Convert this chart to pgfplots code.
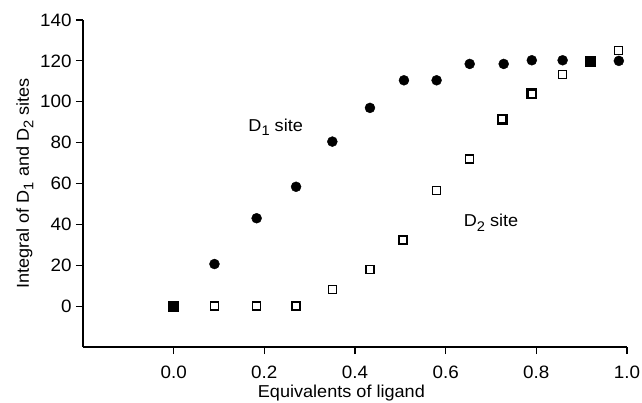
\documentclass[border=0pt]{standalone}
\usepackage{fontspec}
\setmainfont{Liberation Sans}[FakeStretch=1.05]
\usepackage{pgfplots}
\pgfplotsset{compat=1.18}
\newcommand\sub[1]{\raisebox{-4.5bp}{\fontsize{14}{14}\selectfont #1}}
\begin{document}
\begin{tikzpicture}
\useasboundingbox (-83bp,-56bp) rectangle (559bp,347bp);
\begin{axis}[
  at={(0,0)}, anchor=south west,
  width=544bp, height=327bp, scale only axis,
  xmin=-0.2, xmax=1.0, ymin=-20, ymax=140,
  axis x line*=bottom, axis y line*=left,
  axis line style={line width=1.2bp, black},
  tick align=outside,
  major tick length=7bp,
  tick style={line width=1.2bp, black},
  xtick={0,0.2,0.4,0.6,0.8,1.0},
  ytick={0,20,40,60,80,100,120,140},
  /pgf/number format/assume math mode=true,
  tick label style={font=\fontsize{18}{21}\selectfont},
  xticklabel style={/pgf/number format/.cd, fixed, fixed zerofill, precision=1, /tikz/yshift=-8bp},
  yticklabel style={xshift=-1bp},
  xlabel={Equivalents of ligand},
  ylabel={Integral of D\sub{1} and D\sub{2} sites},
  label style={font=\fontsize{17.3}{20}\selectfont},
  xlabel style={at={(axis description cs:0.475,0)}, anchor=base, yshift=-50bp},
  ylabel style={at={(axis description cs:0,0.5)}, anchor=center, yshift=58bp},
  clip=false,
]
% D2 site, open squares
\addplot[only marks, mark=square, mark size=4bp, mark options={line width=1.3bp, fill=white, black}]
  coordinates {
  (0.09,0) (0.183,0) (0.27,0) (0.35,8) (0.433,18) (0.506,32.4) (0.58,56.5)
  (0.653,72) (0.858,113.4) (0.982,125)
  };
% D2 site, heavier squares
\addplot[only marks, mark=square, mark size=4.3bp, mark options={line width=2.6bp, fill=white, black}]
  coordinates { (0.725,91.4) (0.79,104) };
% D1 site, filled circles
\addplot[only marks, mark=*, mark size=5bp, black]
  coordinates {
  (0.09,20.6) (0.183,43) (0.27,58.4) (0.35,80.5) (0.433,97) (0.508,110.5)
  (0.58,110.5) (0.653,118.5) (0.728,118.5) (0.79,120.3) (0.858,120.3)
  (0.982,120)
  };
% overlapping points drawn as filled squares
\addplot[only marks, mark=square*, mark size=5bp, black]
  coordinates { (0,0) (0.918,120) };
\node[anchor=base, font=\fontsize{17.3}{20}\selectfont] at (axis cs:0.225,85.5) {D\sub{1} site};
\node[anchor=base, font=\fontsize{17.3}{20}\selectfont] at (axis cs:0.70,38.8) {D\sub{2} site};
\end{axis}
\end{tikzpicture}
\end{document}
